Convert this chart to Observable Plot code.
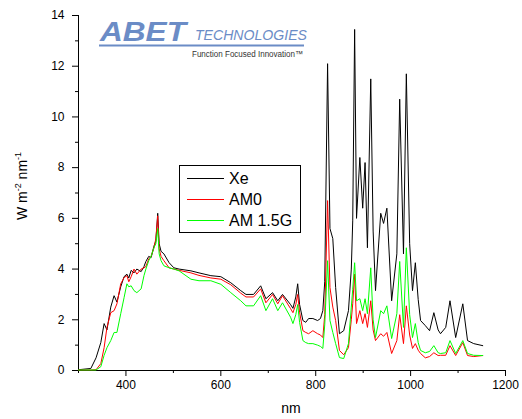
<!DOCTYPE html>
<html>
<head>
<meta charset="utf-8">
<script src="https://cdn.jsdelivr.net/npm/d3@7"></script>
<script src="https://cdn.jsdelivr.net/npm/@observablehq/plot@0.6"></script>
<style>
  html, body { margin: 0; padding: 0; background: white; }
  #chart { width: 522px; height: 419px; }
</style>
</head>
<body>
<div id="chart"></div>
<script>
// Wavelength grid (nm)
const wavelength = [300, 326, 337, 347, 354, 360, 368, 375, 381, 389, 396, 402, 406, 411, 417, 423, 432, 438, 442, 448, 453, 459, 463, 467, 470, 474, 480, 491, 501, 512, 537, 554, 579, 600, 621, 642, 653, 669, 684, 695, 709, 720, 730, 747, 752, 758, 762, 766, 773, 779, 785, 794, 804, 810, 815, 819, 825, 830, 836, 842, 850, 859, 869, 875, 878, 882, 886, 893, 899, 904, 909, 916, 921, 926, 937, 943, 950, 960, 971, 977, 985, 991, 998, 1004, 1010, 1016, 1021, 1031, 1040, 1049, 1058, 1063, 1074, 1083, 1095, 1110, 1120, 1133, 1152];

// Xe lamp spectrum
const xe = [0.03, 0.08, 0.5, 1.1, 1.85, 1.6, 2.5, 2.95, 2.7, 3.3, 3.7, 3.8, 3.65, 3.95, 3.85, 4.0, 3.9, 4.1, 4.3, 4.5, 4.45, 4.9, 5.1, 6.2, 5.0, 4.7, 4.6, 4.25, 4.05, 4.0, 3.93, 3.85, 3.74, 3.7, 3.46, 3.15, 3.0, 3.0, 3.34, 2.83, 3.07, 2.75, 3.0, 2.6, 2.45, 2.9, 3.42, 2.6, 1.97, 1.9, 2.05, 2.05, 1.97, 2.05, 2.36, 3.5, 12.1, 5.6, 5.2, 3.27, 1.45, 1.57, 2.36, 4.0, 5.9, 13.45, 6.0, 8.4, 6.4, 8.2, 4.84, 11.5, 5.5, 3.15, 6.2, 5.8, 6.4, 2.75, 4.6, 10.7, 4.6, 11.7, 5.0, 3.15, 4.25, 2.8, 1.97, 1.77, 1.57, 2.28, 1.6, 1.45, 1.7, 2.75, 1.3, 2.63, 1.18, 1.06, 0.98];

// AM0 spectrum
const am0 = [0.02, 0.02, 0.03, 0.27, 0.9, 1.7, 2.28, 2.36, 2.63, 3.42, 3.66, 3.74, 3.5, 3.7, 4.0, 3.8, 4.0, 4.05, 4.1, 4.4, 4.5, 4.84, 5.2, 6.1, 4.8, 4.5, 4.33, 4.05, 4.0, 3.95, 3.85, 3.75, 3.65, 3.6, 3.38, 3.05, 2.9, 2.9, 3.22, 2.67, 3.0, 2.63, 2.95, 2.44, 2.28, 2.6, 3.0, 2.3, 1.57, 1.5, 1.45, 1.57, 1.45, 1.4, 1.3, 2.2, 6.7, 3.27, 2.5, 1.97, 0.79, 0.62, 0.9, 2.0, 2.63, 3.8, 1.85, 2.36, 1.85, 2.24, 1.7, 2.75, 1.6, 1.18, 1.45, 1.35, 1.5, 0.67, 1.18, 2.2, 1.06, 2.55, 1.4, 0.87, 1.06, 0.8, 0.67, 0.5, 0.55, 0.7, 0.59, 0.6, 0.6, 0.98, 0.59, 1.1, 0.59, 0.55, 0.59];

// AM 1.5G spectrum
const am15g = [0.02, 0.02, 0.02, 0.15, 0.6, 0.9, 1.18, 1.5, 1.5, 2.24, 2.87, 3.42, 3.3, 3.34, 3.15, 3.07, 3.22, 3.74, 4.0, 4.33, 4.5, 4.84, 5.0, 5.6, 4.6, 4.33, 4.13, 4.05, 4.0, 3.93, 3.6, 3.54, 3.54, 3.4, 3.07, 2.75, 2.55, 2.55, 2.95, 2.36, 2.83, 2.36, 2.67, 2.1, 1.85, 2.2, 2.6, 1.9, 1.18, 1.1, 1.06, 1.06, 1.0, 0.95, 0.87, 1.8, 4.33, 1.97, 1.5, 1.06, 0.51, 0.47, 1.06, 2.5, 3.2, 4.25, 2.75, 2.83, 2.36, 2.83, 2.24, 4.05, 2.0, 1.3, 2.36, 2.24, 2.55, 1.26, 2.24, 4.3, 1.7, 4.84, 2.2, 1.3, 1.85, 1.1, 0.79, 0.7, 0.75, 0.98, 0.7, 0.67, 0.7, 1.18, 0.67, 1.18, 0.67, 0.6, 0.59];

const seriesNames = ["Xe", "AM0", "AM 1.5G"];
const seriesColors = ["#000000", "#ff0000", "#00ff00"];
const seriesValues = [xe, am0, am15g];

const xMajorTicks = [400, 600, 800, 1000, 1200];
const xMinorTicks = [300, 500, 700, 900, 1100];
const yMajorTicks = [0, 2, 4, 6, 8, 10, 12, 14];
const yMinorTicks = [1, 3, 5, 7, 9, 11, 13];

const data = [];
seriesNames.forEach((name, s) => {
  wavelength.forEach((w, i) => data.push({nm: w, value: seriesValues[s][i], series: name}));
});

const chart = Plot.plot({
  width: 522,
  height: 419,
  marginLeft: 78,
  marginRight: 17,
  marginTop: 15,
  marginBottom: 49,
  x: {domain: [300, 1200]},
  y: {domain: [0, 14]},
  color: {domain: seriesNames, range: seriesColors},
  style: {fontFamily: "'Liberation Sans', Arial, sans-serif", fontSize: "12px", color: "black", background: "white"},
  marks: [
    Plot.axisX({ticks: xMajorTicks, tickSize: 6, tickPadding: 4, tickFormat: d => String(d), label: null}),
    Plot.axisX({ticks: xMinorTicks, tickSize: 3, tickFormat: () => "", label: null}),
    Plot.axisY({ticks: yMajorTicks, tickSize: 6, tickPadding: 8, tickFormat: d => String(d), label: null}),
    Plot.axisY({ticks: yMinorTicks, tickSize: 3, tickFormat: () => "", label: null}),
    Plot.ruleX([300]),
    Plot.ruleY([0]),
    Plot.lineY(data, {x: "nm", y: "value", z: "series", stroke: "series", strokeWidth: 1})
  ]
});

const svg = d3.select(chart);

// Axis titles
const ylab = svg.append("text")
  .attr("transform", "translate(27,186) rotate(-90)")
  .attr("text-anchor", "middle")
  .attr("font-size", 14)
  .attr("fill", "black");
ylab.append("tspan").text("W m");
ylab.append("tspan").attr("font-size", 9).attr("dy", -6).text("-2");
ylab.append("tspan").attr("dy", 6).text(" nm");
ylab.append("tspan").attr("font-size", 9).attr("dy", -6).text("-1");

svg.append("text")
  .attr("x", 291).attr("y", 413)
  .attr("text-anchor", "middle")
  .attr("font-size", 14)
  .attr("fill", "black")
  .text("nm");

// Logo
const logoColor = "#6b8cc6";
svg.append("text")
  .attr("x", 100).attr("y", 41)
  .attr("text-anchor", "start")
  .attr("font-size", 28).attr("font-weight", "bold").attr("font-style", "italic")
  .attr("textLength", 86).attr("lengthAdjust", "spacingAndGlyphs")
  .attr("fill", logoColor)
  .text("ABET");
svg.append("text")
  .attr("x", 195).attr("y", 39.5)
  .attr("text-anchor", "start")
  .attr("font-size", 14).attr("font-style", "italic")
  .attr("textLength", 112).attr("lengthAdjust", "spacingAndGlyphs")
  .attr("fill", logoColor)
  .text("TECHNOLOGIES");
svg.append("line")
  .attr("x1", 99).attr("x2", 304).attr("y1", 45.5).attr("y2", 45.5)
  .attr("stroke", logoColor).attr("stroke-width", 2);
svg.append("text")
  .attr("x", 192).attr("y", 57)
  .attr("text-anchor", "start")
  .attr("font-size", 8.5)
  .attr("textLength", 111).attr("lengthAdjust", "spacingAndGlyphs")
  .attr("fill", "#333")
  .text("Function Focused Innovation™");

// Legend
const lg = svg.append("g");
lg.append("rect")
  .attr("x", 179.5).attr("y", 165.5).attr("width", 121).attr("height", 67)
  .attr("fill", "white").attr("stroke", "black").attr("stroke-width", 1);
const rowY = [178, 199, 220];
seriesNames.forEach((name, i) => {
  lg.append("line")
    .attr("x1", 187).attr("x2", 224).attr("y1", rowY[i] + 0.5).attr("y2", rowY[i] + 0.5)
    .attr("stroke", seriesColors[i]).attr("stroke-width", 1);
  lg.append("text")
    .attr("x", 229).attr("y", rowY[i] + 6)
    .attr("text-anchor", "start")
    .attr("font-size", 16).attr("fill", "black")
    .text(name);
});

document.getElementById("chart").appendChild(chart);
</script>
</body>
</html>
